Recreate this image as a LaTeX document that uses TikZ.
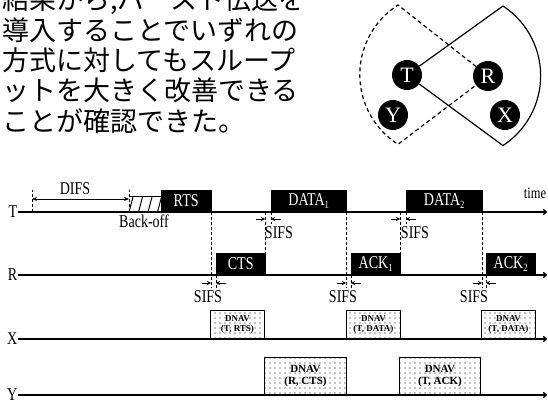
\documentclass[tikz,border=0pt]{standalone}
\usepackage{fontspec}
\setmainfont{Liberation Serif}
\newfontfamily\jp{Noto Sans CJK JP}
\newfontfamily\cnd[FakeStretch=0.78]{Liberation Serif}
\usetikzlibrary{arrows.meta,patterns.meta}
\tikzset{
 axisln/.style={line width=1.3pt, -{To[length=4pt,width=6pt]}},
 blkbox/.style={fill=black, draw=black, text=white, inner sep=0pt, anchor=south west, font=\cnd\fontsize{18}{18}\selectfont},
 dnavbox/.style={draw=black, line width=0.9pt, pattern={Dots[distance=5pt,radius=0.6pt]}, pattern color=black, inner sep=0pt, anchor=south west, align=center},
 vdash/.style={line width=0.7pt, dash pattern=on 3pt off 2pt},
 sifsarr/.style={line width=0.8pt, -{Stealth[length=4pt,width=4pt]}},
 lbl/.style={font=\cnd\fontsize{18}{18}\selectfont, inner sep=0pt},
 netnode/.style={circle, fill=black, text=white, minimum size=30pt, inner sep=0pt, font=\fontsize{22}{22}\selectfont},
 fanln/.style={line width=1.2pt},
 jptext/.style={anchor=base west, inner sep=0pt, font=\jp\fontsize{27}{27}\selectfont},
}
\newcommand\dnavsmall{\bfseries\fontsize{9}{9.5}\selectfont}
\newcommand\dnavbig{\bfseries\fontsize{11}{12}\selectfont}
\begin{document}
\begin{tikzpicture}[x=1pt,y=-1pt]
\useasboundingbox (0,0) rectangle (548,403);
% Japanese text
\begin{scope}
\clip (0,-20) rectangle (298,150);
\node[jptext] (j0) at (2,10) {結果から,バースト伝送を};
\node[jptext] (j1) at (2,40.3) {導入することでいずれの};
\node[jptext] (j2) at (2,70.6) {方式に対してもスループ};
\node[jptext] (j3) at (2,100.9) {ットを大きく改善できる};
\node[jptext] (j4) at (2,131.2) {ことが確認できた。};
\end{scope}
% network diagram
\node[netnode] (T) at (407,75) {T};
\node[netnode] (R) at (488,76) {R};
\node[netnode] (Y) at (393,115) {Y};
\node[netnode] (X) at (505,115) {X};
\coordinate (st) at (503,6);
\coordinate (dt) at (398,5);
\draw[fanln] (T) -- (st) arc[start angle=-56.7, end angle=56.7, radius=83.5] -- (T);
\draw[fanln, dash pattern=on 4pt off 3pt] (R) -- (dt) arc[start angle=237.5, end angle=122.5, radius=82.6] -- (R);
% axes
\node[lbl, anchor=east] (tl) at (17.5,212) {T};
\node[lbl, anchor=east] (rl) at (17.5,275) {R};
\node[lbl, anchor=east] (xl) at (17.5,339) {X};
\node[lbl, anchor=east] (yl) at (17.5,395) {Y};
\coordinate (te) at (547,212);
\coordinate (re) at (547,275);
\coordinate (xe) at (547,339);
\coordinate (ye) at (547,395);
\draw[axisln] (tl.east) -- (te);
\draw[axisln] (rl.east) -- (re);
\draw[axisln] (xl.east) -- (xe);
\draw[axisln] (yl.east) -- (ye);
\node[font=\cnd\fontsize{16}{16}\selectfont, inner sep=0pt] (time) at (535,193) {time};
% DIFS
\draw[vdash] (32,212) -- (32,190);
\draw[vdash] (129,212) -- (129,190);
\coordinate (da) at (32,199);
\coordinate (db) at (129,199);
\draw[line width=0.9pt, {Stealth[length=5pt,width=4pt]}-{Stealth[length=5pt,width=4pt]}] (da) -- (db);
\node[lbl] (difs) at (75,189) {DIFS};
% back-off
\draw[line width=1pt] (129,197) -- (161,197);
\foreach \k in {0,1,2,3} {
  \draw[line width=1pt] (129+9.5*\k,212) -- (133+9.5*\k,197);
}
\node[lbl] (bo) at (144,221) {Back-off};
% frames
\node[blkbox, minimum width=50pt, minimum height=22pt] (rts) at (161,212) {RTS};
\node[blkbox, minimum width=75pt, minimum height=22pt] (data1) at (271,212) {DATA\raisebox{-3pt}{\fontsize{11}{11}\selectfont 1}};
\node[blkbox, minimum width=76pt, minimum height=22pt] (data2) at (406,212) {DATA\raisebox{-3pt}{\fontsize{11}{11}\selectfont 2}};
\node[blkbox, minimum width=49pt, minimum height=22pt] (cts) at (216,275) {CTS};
\node[blkbox, minimum width=49pt, minimum height=22pt] (ack1) at (351,275) {ACK\raisebox{-3pt}{\fontsize{11}{11}\selectfont 1}};
\node[blkbox, minimum width=49pt, minimum height=22pt] (ack2) at (486,275) {ACK\raisebox{-3pt}{\fontsize{11}{11}\selectfont 2}};
% SIFS below R
\foreach \a/\b/\tx in {211/216/208, 346/351/343, 482/486/474} {
  \draw[vdash] (\a,212) -- (\a,288);
  \draw[vdash] (\b,275) -- (\b,288);
  \draw[sifsarr] (\a-9,283) -- (\a,283);
  \draw[sifsarr] (\b+10,283) -- (\b,283);
  \node[lbl] (sl\a) at (\tx,297) {SIFS};
}
% SIFS below T
\foreach \a/\b/\tx in {265/271/279, 400/406/415} {
  \draw[vdash] (\a,212) -- (\a,253);
  \draw[vdash] (\b,212) -- (\b,224);
  \draw[sifsarr] (\a-9,219) -- (\a,219);
  \draw[sifsarr] (\b+10,219) -- (\b,219);
  \node[lbl] (su\a) at (\tx,233) {SIFS};
}
% DNAV boxes
\node[dnavbox, minimum width=54pt, minimum height=28pt, font=\dnavsmall] (nx1) at (210,339) {DNAV\\(T, RTS)};
\node[dnavbox, minimum width=54pt, minimum height=28pt, font=\dnavsmall] (nx2) at (346,339) {DNAV\\(T, DATA)};
\node[dnavbox, minimum width=54pt, minimum height=28pt, font=\dnavsmall] (nx3) at (481,339) {DNAV\\(T, DATA)};
\node[dnavbox, minimum width=82pt, minimum height=37pt, font=\dnavbig] (ny1) at (264,395) {DNAV\\(R, CTS)};
\node[dnavbox, minimum width=81pt, minimum height=37pt, font=\dnavbig] (ny2) at (399,395) {DNAV\\(T, ACK)};
\end{tikzpicture}
\end{document}
